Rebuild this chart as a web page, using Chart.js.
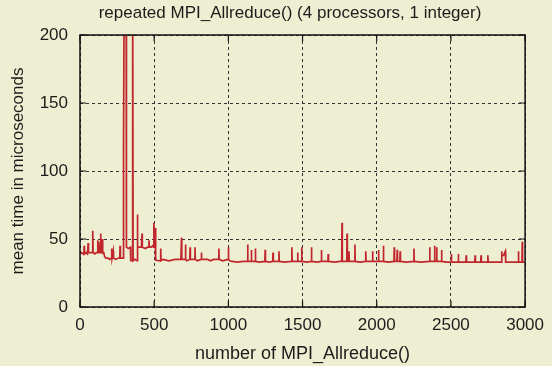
<!DOCTYPE html>
<html>
<head>
<meta charset="utf-8">
<script src="https://cdn.jsdelivr.net/npm/chart.js@4"></script>
<style>
  html, body { margin: 0; padding: 0; background: #eeeed2; }
  #wrap { width: 552px; height: 366px; }
</style>
</head>
<body>
<div id="wrap"><canvas id="chart" width="552" height="366"></canvas></div>
<script>
// sample number (x) and mean time in microseconds (y)
const sampleNo = [
  0, 10, 20, 26, 28, 30, 40, 50, 53, 55, 57, 70,
  84, 86, 88, 100, 110, 118, 120, 122, 126, 128, 130,
  137, 139, 141, 148, 150, 153, 160, 166, 175, 190, 200,
  212, 214, 216, 222, 224, 226, 240, 260, 268, 270, 272, 285, 290,
  291, 296, 298, 311, 313, 325, 340, 342, 352, 355, 358, 370, 383,
  385, 387, 389, 400, 412, 414, 416, 418, 420, 440, 455,
  463, 465, 467, 480, 490, 496, 498, 500, 504, 506, 508, 510,
  512, 530, 540, 544, 546, 560, 600, 640, 680, 684, 686, 700,
  709, 711, 713, 720, 740, 742, 744, 760, 773, 775, 777, 790,
  816, 818, 820, 860, 880, 900, 934, 936, 938, 960, 998, 1000, 1002, 1010,
  1025, 1060, 1100, 1127, 1130, 1132, 1153, 1155, 1157, 1180, 1182, 1184, 1210,
  1246, 1248, 1250, 1280, 1299, 1301, 1303, 1339, 1341, 1343, 1380,
  1426, 1428, 1430, 1465, 1467, 1469, 1492, 1494, 1496, 1530,
  1558, 1560, 1562, 1600, 1625, 1627, 1629, 1671, 1673, 1675, 1720, 1750,
  1764, 1766, 1768, 1798, 1800, 1802, 1811, 1813, 1815, 1851, 1853, 1855, 1890,
  1924, 1926, 1928, 1970, 1972, 1974, 2010, 2012, 2014, 2043, 2045, 2047, 2080,
  2116, 2118, 2120, 2136, 2138, 2140, 2156, 2158, 2160, 2200, 2249, 2251, 2253, 2300,
  2355, 2357, 2359, 2388, 2390, 2392, 2402, 2404, 2406, 2435, 2437, 2439, 2470,
  2501, 2503, 2505, 2548, 2550, 2552, 2601, 2603, 2605, 2661, 2663, 2665,
  2701, 2703, 2705, 2747, 2749, 2751, 2800, 2840, 2842, 2844, 2855, 2867, 2869,
  2900, 2953, 2955, 2957, 2979, 2981, 2983, 2995, 3000
];
const meanTimeUs = [
  39, 40, 39, 39, 45, 39, 40, 39, 39, 47, 40, 40,
  40, 56, 40, 39, 40, 40, 49, 40, 40, 48, 40,
  40, 54, 41, 40, 50, 40, 40, 37, 36, 36, 35,
  36, 43, 36, 36, 41, 36, 35, 36, 36, 45, 36, 36, 36,
  120, 120, 240, 240, 44, 43, 44, 34, 34, 240, 34, 35, 34,
  34, 68, 44, 44, 44, 49, 44, 54, 44, 43, 44,
  44, 49, 44, 44, 45, 44, 62, 44, 44, 58, 44, 44,
  34.5, 34, 34, 43, 34, 35, 34, 35, 35, 51, 35, 35,
  35, 46, 35, 34, 35, 44, 35, 35, 35, 44, 35, 34,
  35, 40, 35, 35, 34, 35, 35, 43, 35, 34, 35, 44, 35, 34,
  33.5, 33, 33.5, 33.5, 46, 33.5, 33.5, 42, 33.5, 33.5, 43, 33.5, 33,
  33.5, 42, 33.5, 33, 33.5, 40, 33.5, 33.5, 41, 33.5, 33,
  33.5, 44, 33.5, 33.5, 40, 33.5, 33.5, 44, 33.5, 33,
  33.5, 44, 33.5, 33, 33.5, 42, 33.5, 33.5, 39, 33.5, 33, 33.5,
  33.5, 62, 33.5, 33.5, 54, 33.5, 33.5, 41, 33.5, 33.5, 46, 33.5, 33,
  33.5, 41, 33.5, 33.5, 41, 33.5, 33.5, 42, 33.5, 33.5, 45, 33.5, 33,
  33.5, 44, 33.5, 33.5, 42, 33.5, 33.5, 41, 33.5, 33, 33.5, 43, 33.5, 33,
  33.5, 44, 33.5, 33.5, 45, 33.5, 33.5, 44, 33.5, 33.5, 42, 33.5, 33,
  33, 39, 33, 33, 39, 33, 33, 38, 33, 33, 38, 33,
  33, 38, 33, 33, 38, 33, 33, 33, 41, 38, 38, 41, 33,
  33, 33, 41, 33, 33, 48, 33, 33, 33
];
const xTicks = [0, 500, 1000, 1500, 2000, 2500, 3000];
const yTicks = [0, 50, 100, 150, 200];
const chartTitle = 'repeated MPI_Allreduce() (4 processors, 1 integer)';

const textColor = '#1c1c1c';
const fontFamily = '"Liberation Sans", Arial, sans-serif';

// title sits a bit left of the plot centre, like in the original
const topTitle = {
  id: 'topTitle',
  afterDraw(chart) {
    const ctx = chart.ctx;
    ctx.save();
    ctx.fillStyle = textColor;
    ctx.font = '17px ' + fontFamily;
    ctx.textAlign = 'center';
    ctx.textBaseline = 'middle';
    ctx.fillText(chartTitle, 290, 13);
    ctx.restore();
  }
};

// gnuplot style box round the plot with small inward tick marks
const frame = {
  id: 'frame',
  afterDatasetsDraw(chart) {
    const ctx = chart.ctx;
    const a = chart.chartArea;
    const xs = chart.scales.x, ys = chart.scales.y;
    ctx.save();
    ctx.strokeStyle = '#111';
    ctx.lineWidth = 1.5;
    ctx.strokeRect(a.left, a.top, a.right - a.left, a.bottom - a.top);
    ctx.lineWidth = 1.2;
    ctx.beginPath();
    xTicks.forEach(v => {
      let px = xs.getPixelForValue(v);
      ctx.moveTo(px, a.bottom); ctx.lineTo(px, a.bottom - 6);
      ctx.moveTo(px, a.top); ctx.lineTo(px, a.top + 6);
    });
    yTicks.forEach(v => {
      let py = ys.getPixelForValue(v);
      ctx.moveTo(a.left, py); ctx.lineTo(a.left + 6, py);
      ctx.moveTo(a.right, py); ctx.lineTo(a.right - 6, py);
    });
    ctx.stroke();
    ctx.restore();
  }
};

let points = sampleNo.map((x, i) => ({ x: x, y: meanTimeUs[i] }));

new Chart(document.getElementById('chart'), {
  type: 'line',
  data: {
    datasets: [{
      data: points,
      borderColor: '#c0262c',
      borderWidth: 1.7,
      pointRadius: 0,
      tension: 0,
      fill: false
    }]
  },
  options: {
    responsive: false,
    animation: false,
    layout: { padding: { left: 0, right: 20, top: 35, bottom: 0 } },
    plugins: {
      legend: { display: false },
      tooltip: { enabled: false },
      title: { display: false }
    },
    scales: {
      x: {
        type: 'linear',
        min: 0,
        max: 3000,
        afterBuildTicks: s => { s.ticks = xTicks.map(v => ({ value: v })); },
        afterFit: s => { s.height = 59; },
        grid: { color: '#333', lineWidth: 1, drawTicks: false },
        border: { display: false, dash: [3, 3] },
        ticks: {
          color: textColor, padding: 8,
          font: { family: fontFamily, size: 17 },
          callback: v => String(v)
        },
        title: {
          display: true,
          text: 'number of MPI_Allreduce()',
          color: textColor,
          font: { family: fontFamily, size: 18 },
          padding: { top: 0, bottom: 1 }
        }
      },
      y: {
        min: 0,
        max: 200,
        afterBuildTicks: s => { s.ticks = yTicks.map(v => ({ value: v })); },
        afterFit: s => { s.width = 80; },
        grid: { color: '#333', lineWidth: 1, drawTicks: false },
        border: { display: false, dash: [3, 3] },
        ticks: {
          color: textColor, padding: 12,
          font: { family: fontFamily, size: 17 },
          callback: v => String(v)
        },
        title: {
          display: true,
          text: 'mean time in microseconds',
          color: textColor,
          font: { family: fontFamily, size: 17 },
          padding: { top: 8, bottom: 0 }
        }
      }
    }
  },
  plugins: [frame, topTitle]
});
</script>
</body>
</html>
